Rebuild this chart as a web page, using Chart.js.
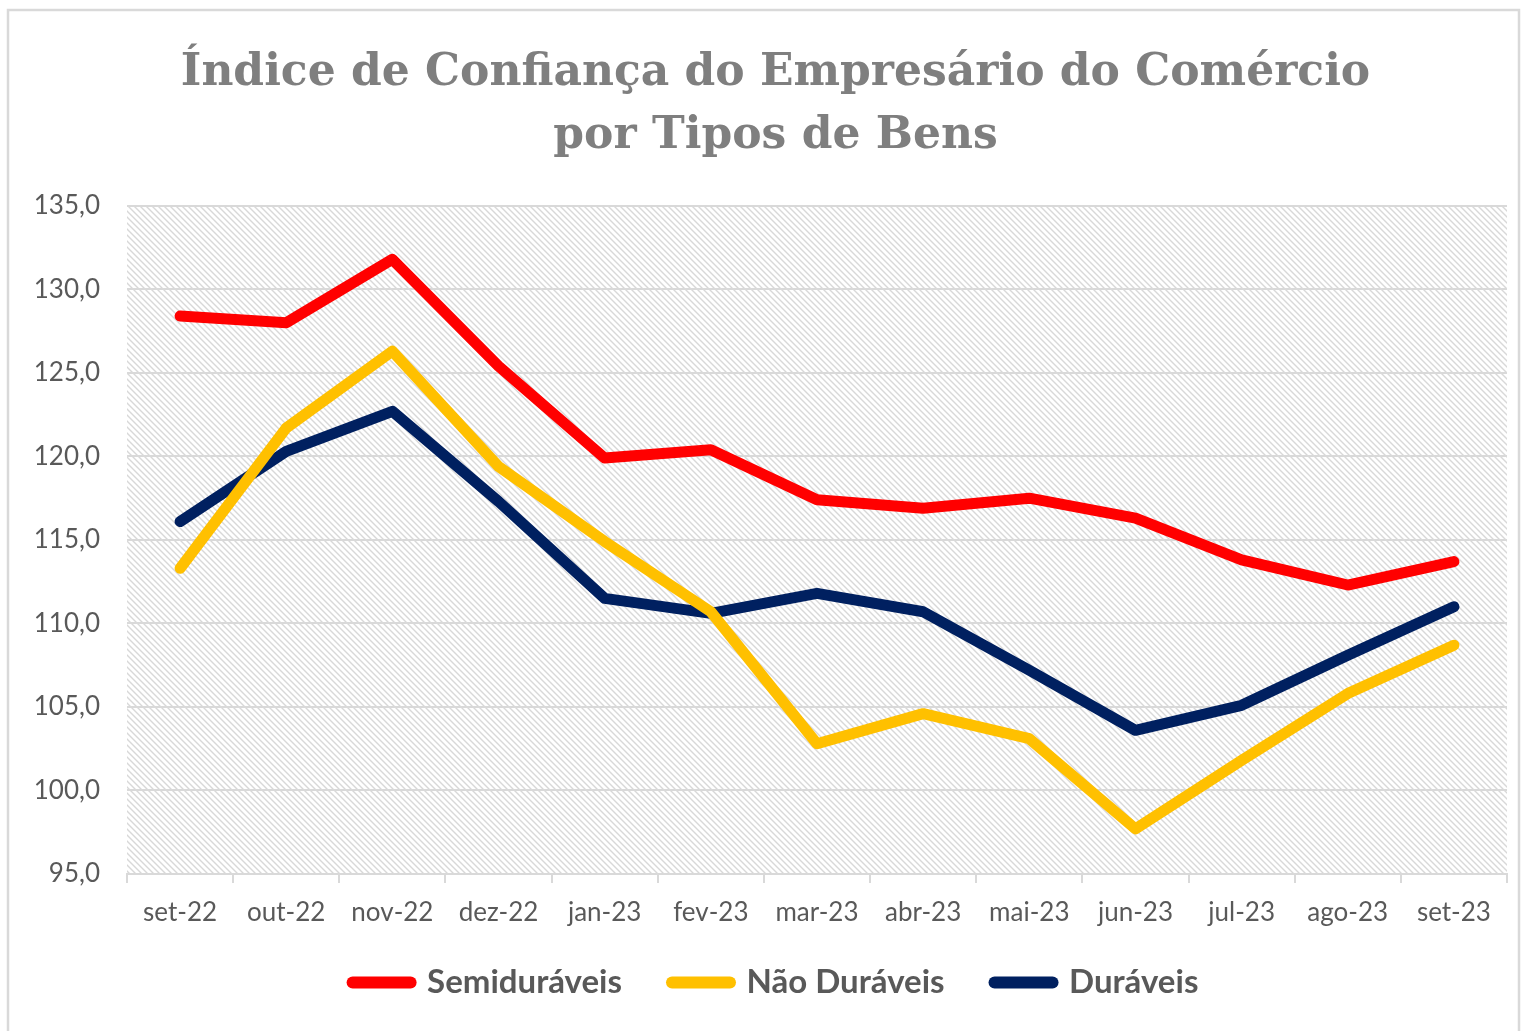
<!DOCTYPE html>
<html>
<head>
<meta charset="utf-8">
<script src="https://cdn.jsdelivr.net/npm/chart.js@4.4.0/dist/chart.umd.min.js"></script>
<style>
  html, body { margin: 0; padding: 0; background: #ffffff; }
  #wrap { position: absolute; left: 0; top: 0; width: 1521px; height: 1031px; }
</style>
</head>
<body>
<div id="wrap"><canvas id="c"></canvas></div>
<script>
const categories = ['set-22','out-22','nov-22','dez-22','jan-23','fev-23','mar-23','abr-23','mai-23','jun-23','jul-23','ago-23','set-23'];
const semiduraveis = [128.4, 128.0, 131.8, 125.4, 119.9, 120.4, 117.4, 116.9, 117.5, 116.3, 113.8, 112.3, 113.7];
const naoDuraveis  = [113.3, 121.7, 126.3, 119.4, 114.9, 110.7, 102.8, 104.6, 103.1, 97.7, 101.8, 105.8, 108.7];
const duraveis     = [116.1, 120.3, 122.7, 117.3, 111.5, 110.6, 111.8, 110.7, 107.2, 103.6, 105.1, 108.1, 111.0];
const seriesNames = ['Semiduráveis', 'Não Duráveis', 'Duráveis'];
const seriesColors = ['#ff0000', '#ffc000', '#002060'];
const yMin = 95, yMax = 135, yStep = 5;
const titleLines = ['Índice de Confiança do Empresário do Comércio', 'por Tipos de Bens'];

function makeHatch() {
  const s = 6;
  const p = document.createElement('canvas');
  p.width = s; p.height = s;
  const g = p.getContext('2d');
  g.fillStyle = '#ffffff';
  g.fillRect(0, 0, s, s);
  g.strokeStyle = '#d8d8d8';
  g.lineWidth = 1.4;
  g.beginPath();
  g.moveTo(-1, -1); g.lineTo(s + 1, s + 1);
  g.moveTo(-1, s - 1); g.lineTo(1, s + 1);
  g.moveTo(s - 1, -1); g.lineTo(s + 1, 1);
  g.stroke();
  return p;
}

const bgPlugin = {
  id: 'bgPlugin',
  afterLayout(chart) {
    // let x tick labels extend below the (shortened) axis box without clipping
    chart.scales.x.bottom += 20;
  },
  beforeDraw(chart) {
    const ctx = chart.ctx;
    ctx.save();
    ctx.fillStyle = '#ffffff';
    ctx.fillRect(0, 0, chart.width, chart.height);
    ctx.strokeStyle = '#d9d9d9';
    ctx.lineWidth = 2.5;
    ctx.strokeRect(8, 10, 1511, chart.height + 20);
    const a = chart.chartArea;
    ctx.fillStyle = ctx.createPattern(makeHatch(), 'repeat');
    ctx.fillRect(a.left, a.top, a.right - a.left, a.bottom - a.top);
    ctx.restore();
  }
};

const datasets = [semiduraveis, naoDuraveis, duraveis].map((d, i) => ({
  label: seriesNames[i],
  data: d,
  borderColor: seriesColors[i],
  backgroundColor: seriesColors[i],
  borderWidth: 11,
  borderCapStyle: 'round',
  borderJoinStyle: 'round',
  pointRadius: 0,
  pointHoverRadius: 0,
  tension: 0,
  fill: false
}));

new Chart(document.getElementById('c'), {
  type: 'line',
  data: { labels: categories, datasets },
  plugins: [bgPlugin],
  options: {
    responsive: true,
    maintainAspectRatio: false,
    animation: false,
    layout: { padding: { left: 30, right: 0, top: 0, bottom: 22 } },
    plugins: {
      title: {
        display: true,
        text: titleLines,
        color: '#7f7f7f',
        font: { family: 'DejaVu Serif', size: 44, weight: 'bold', lineHeight: 1.43 },
        padding: { top: 42, bottom: 38 }
      },
      legend: {
        position: 'bottom',
        labels: {
          usePointStyle: true,
          pointStyle: 'line',
          pointStyleWidth: 58,
          color: '#595959',
          font: { family: 'Lato', size: 33, weight: 'bold' },
          padding: 50,
          generateLabels(chart) {
            const items = Chart.defaults.plugins.legend.labels.generateLabels(chart);
            items.forEach(it => { it.lineCap = 'round'; it.lineWidth = 12; });
            return items;
          }
        }
      },
      tooltip: { enabled: false }
    },
    scales: {
      x: {
        offset: true,
        afterFit(scale) { scale.height = 42; },
        grid: { offset: true, drawOnChartArea: false, drawTicks: true, tickLength: 9, color: '#d9d9d9', lineWidth: 2 },
        border: { display: true, color: '#d9d9d9', width: 2 },
        ticks: { color: '#595959', font: { family: 'Lato', size: 26 }, padding: 14, maxRotation: 0, autoSkip: false }
      },
      y: {
        min: yMin, max: yMax,
        afterFit(scale) { scale.width = 97; },
        grid: { color: '#d9d9d9', lineWidth: 2, drawTicks: false },
        border: { display: false },
        ticks: {
          stepSize: yStep,
          color: '#595959',
          font: { family: 'Lato', size: 26 },
          padding: 27,
          callback: v => v.toFixed(1).replace('.', ',')
        }
      },
      yRight: {
        position: 'right',
        display: true,
        afterFit(scale) { scale.width = 14; },
        grid: { display: false, drawTicks: false },
        border: { display: false },
        ticks: { display: false }
      }
    }
  }
});
</script>
</body>
</html>
